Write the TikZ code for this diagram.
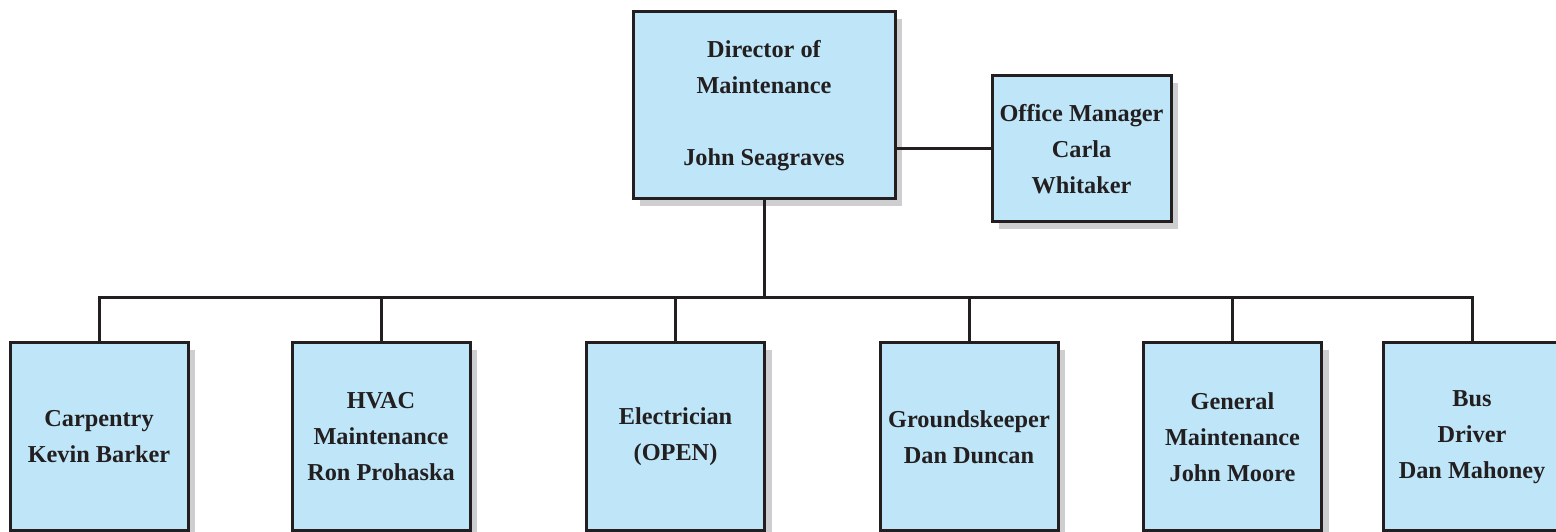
\documentclass[tikz,border=0pt]{standalone}
\usepackage{fontspec}
\setmainfont{Liberation Serif}
\usetikzlibrary{shadows}
\definecolor{boxblue}{RGB}{190,230,248}
\definecolor{shadegray}{RGB}{206,206,208}
\definecolor{inkblack}{RGB}{35,31,32}
\tikzset{
  post/.style={draw=inkblack, line width=3pt, fill=boxblue, align=center, inner sep=0pt,
    font=\bfseries\fontsize{24.3}{36}\selectfont, text=inkblack,
    drop shadow={shadow xshift=7pt, shadow yshift=-7pt, fill=shadegray, opacity=1}},
  staff/.style={post, minimum width=178pt, minimum height=188pt},
  link/.style={draw=inkblack, line width=3pt}
}

\begin{document}
\begin{tikzpicture}[x=1pt,y=1pt]
  \useasboundingbox (0,0) rectangle (1556,532);
  \clip (0,0) rectangle (1556,532);

  \node[post, minimum width=262pt, minimum height=187pt] (director) at (764,426.5) {Director of\\Maintenance\\[36pt]John Seagraves};
  \node[post, minimum width=179pt, minimum height=146pt] (office) at (1081.5,383) {Office Manager\\Carla\\Whitaker};

  \node[staff] (carpentry) at (99,95) {Carpentry\\Kevin Barker};
  \node[staff] (hvac) at (381,95) {HVAC\\Maintenance\\Ron Prohaska};
  \node[staff] (electrician) at (675.5,95) {Electrician\\(OPEN)};
  \node[staff] (grounds) at (969,95) {Groundskeeper\\Dan Duncan};
  \node[staff] (general) at (1232.5,95) {General\\Maintenance\\John Moore};
  \node[staff] (driver) at (1472,95) {Bus\\Driver\\Dan Mahoney};

  \coordinate (bus) at (764,234);

  \draw[link] (office.west -| director.east) -- (office.west);
  \draw[link] (director.south) -- (director.south |- bus);
  \draw[link] (carpentry.north) |- (driver.north |- bus) -- (driver.north);
  \draw[link] (hvac.north) -- (hvac.north |- bus);
  \draw[link] (electrician.north) -- (electrician.north |- bus);
  \draw[link] (grounds.north) -- (grounds.north |- bus);
  \draw[link] (general.north) -- (general.north |- bus);
\end{tikzpicture}
\end{document}
